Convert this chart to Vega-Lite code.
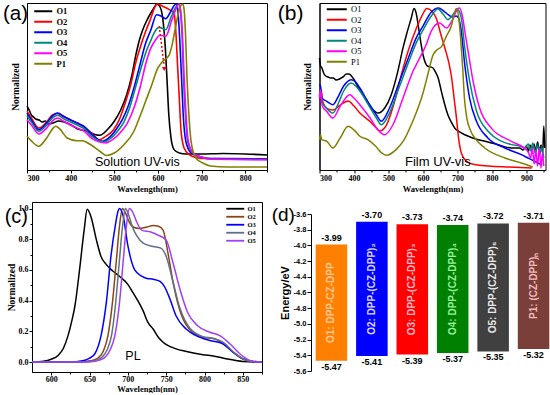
{
  "$schema": "https://vega.github.io/schema/vega-lite/v6.json",
  "padding": {"left": 2, "top": 0, "right": 0, "bottom": 0},
  "background": "white",
  "config": {
    "view": {"stroke": "black", "strokeWidth": 1},
    "axis": {"grid": false, "labelOverlap": false, "domainColor": "black", "tickColor": "black", "labelColor": "black", "titleColor": "black", "labelFont": "Liberation Serif", "labelFontWeight": "bold", "labelFontSize": 8, "titleFont": "Liberation Serif", "titleFontWeight": "bold", "titleFontSize": 8.5, "labelPadding": 1, "titlePadding": 2, "tickSize": 3},
    "axisY": {"labelOverlap": false},
    "axisQuantitative": {"labelOverlap": false},
    "legend": {"padding": 0, "offset": 0}
  },
  "resolve": {"scale": {"color": "independent", "fill": "independent"}, "legend": {"color": "independent", "fill": "independent"}},
  "spacing": 0,
  "datasets": {
    "a": [
      {"series":"O1","nm":300,"val":0.383},{"series":"O1","nm":305,"val":0.359},{"series":"O1","nm":310,"val":0.329},{"series":"O1","nm":315,"val":0.317},{"series":"O1","nm":320,"val":0.305},{"series":"O1","nm":328,"val":0.299},{"series":"O1","nm":335,"val":0.287},{"series":"O1","nm":342,"val":0.293},{"series":"O1","nm":350,"val":0.275},{"series":"O1","nm":360,"val":0.281},{"series":"O1","nm":372,"val":0.293},{"series":"O1","nm":385,"val":0.287},{"series":"O1","nm":400,"val":0.271},{"series":"O1","nm":415,"val":0.247},{"series":"O1","nm":438,"val":0.232},{"series":"O1","nm":457,"val":0.211},{"series":"O1","nm":467,"val":0.208},{"series":"O1","nm":484,"val":0.241},{"series":"O1","nm":500,"val":0.292},{"series":"O1","nm":515,"val":0.361},{"series":"O1","nm":529,"val":0.455},{"series":"O1","nm":540,"val":0.563},{"series":"O1","nm":549,"val":0.683},{"series":"O1","nm":557,"val":0.772},{"series":"O1","nm":565,"val":0.838},{"series":"O1","nm":575,"val":0.898},{"series":"O1","nm":588,"val":0.958},{"series":"O1","nm":598,"val":0.994},{"series":"O1","nm":605,"val":0.976},{"series":"O1","nm":611,"val":0.91},{"series":"O1","nm":617,"val":0.731},{"series":"O1","nm":621,"val":0.533},{"series":"O1","nm":625,"val":0.329},{"series":"O1","nm":630,"val":0.192},{"series":"O1","nm":637,"val":0.122},{"series":"O1","nm":649,"val":0.102},{"series":"O1","nm":665,"val":0.096},{"series":"O1","nm":700,"val":0.096},{"series":"O1","nm":750,"val":0.099},{"series":"O1","nm":800,"val":0.096},{"series":"O1","nm":850,"val":0.09},
      {"series":"O2","nm":300,"val":0.353},{"series":"O2","nm":310,"val":0.311},{"series":"O2","nm":327,"val":0.251},{"series":"O2","nm":345,"val":0.287},{"series":"O2","nm":358,"val":0.329},{"series":"O2","nm":370,"val":0.338},{"series":"O2","nm":385,"val":0.317},{"series":"O2","nm":400,"val":0.299},{"series":"O2","nm":415,"val":0.281},{"series":"O2","nm":430,"val":0.26},{"series":"O2","nm":450,"val":0.216},{"series":"O2","nm":465,"val":0.181},{"series":"O2","nm":480,"val":0.201},{"series":"O2","nm":498,"val":0.24},{"series":"O2","nm":512,"val":0.305},{"series":"O2","nm":525,"val":0.401},{"series":"O2","nm":538,"val":0.515},{"series":"O2","nm":549,"val":0.641},{"series":"O2","nm":559,"val":0.731},{"series":"O2","nm":572,"val":0.831},{"series":"O2","nm":584,"val":0.91},{"series":"O2","nm":592,"val":0.97},{"series":"O2","nm":599,"val":0.994},{"series":"O2","nm":612,"val":0.979},{"series":"O2","nm":626,"val":0.96},{"series":"O2","nm":637,"val":0.94},{"series":"O2","nm":641,"val":0.832},{"series":"O2","nm":645,"val":0.629},{"series":"O2","nm":649,"val":0.431},{"series":"O2","nm":653,"val":0.234},{"series":"O2","nm":660,"val":0.132},{"series":"O2","nm":672,"val":0.092},{"series":"O2","nm":687,"val":0.075},{"series":"O2","nm":700,"val":0.069},{"series":"O2","nm":850,"val":0.066},
      {"series":"O3","nm":300,"val":0.341},{"series":"O3","nm":310,"val":0.299},{"series":"O3","nm":327,"val":0.241},{"series":"O3","nm":345,"val":0.281},{"series":"O3","nm":358,"val":0.323},{"series":"O3","nm":370,"val":0.341},{"series":"O3","nm":385,"val":0.32},{"series":"O3","nm":400,"val":0.299},{"series":"O3","nm":415,"val":0.281},{"series":"O3","nm":430,"val":0.262},{"series":"O3","nm":450,"val":0.21},{"series":"O3","nm":473,"val":0.172},{"series":"O3","nm":490,"val":0.198},{"series":"O3","nm":505,"val":0.246},{"series":"O3","nm":519,"val":0.305},{"series":"O3","nm":532,"val":0.383},{"series":"O3","nm":545,"val":0.491},{"series":"O3","nm":557,"val":0.611},{"series":"O3","nm":572,"val":0.76},{"series":"O3","nm":584,"val":0.84},{"series":"O3","nm":597,"val":0.93},{"series":"O3","nm":607,"val":0.922},{"series":"O3","nm":618,"val":0.906},{"series":"O3","nm":630,"val":0.952},{"series":"O3","nm":641,"val":0.994},{"series":"O3","nm":645,"val":0.97},{"series":"O3","nm":649,"val":0.83},{"series":"O3","nm":654.5,"val":0.531},{"series":"O3","nm":658,"val":0.331},{"series":"O3","nm":664,"val":0.172},{"series":"O3","nm":676,"val":0.102},{"series":"O3","nm":695,"val":0.081},{"series":"O3","nm":720,"val":0.069},{"series":"O3","nm":850,"val":0.066},
      {"series":"O4","nm":300,"val":0.323},{"series":"O4","nm":310,"val":0.287},{"series":"O4","nm":327,"val":0.232},{"series":"O4","nm":345,"val":0.269},{"series":"O4","nm":358,"val":0.311},{"series":"O4","nm":370,"val":0.328},{"series":"O4","nm":385,"val":0.305},{"series":"O4","nm":400,"val":0.287},{"series":"O4","nm":415,"val":0.269},{"series":"O4","nm":430,"val":0.249},{"series":"O4","nm":450,"val":0.198},{"series":"O4","nm":476,"val":0.168},{"series":"O4","nm":493,"val":0.192},{"series":"O4","nm":508,"val":0.234},{"series":"O4","nm":522,"val":0.287},{"series":"O4","nm":535,"val":0.371},{"series":"O4","nm":547,"val":0.479},{"series":"O4","nm":560,"val":0.599},{"series":"O4","nm":572,"val":0.701},{"series":"O4","nm":584,"val":0.778},{"series":"O4","nm":591,"val":0.82},{"series":"O4","nm":603,"val":0.854},{"series":"O4","nm":618,"val":0.84},{"series":"O4","nm":632,"val":0.928},{"series":"O4","nm":647.5,"val":0.994},{"series":"O4","nm":651,"val":0.96},{"series":"O4","nm":655,"val":0.83},{"series":"O4","nm":659,"val":0.531},{"series":"O4","nm":663,"val":0.331},{"series":"O4","nm":668,"val":0.172},{"series":"O4","nm":680,"val":0.102},{"series":"O4","nm":699,"val":0.076},{"series":"O4","nm":720,"val":0.066},{"series":"O4","nm":850,"val":0.063},
      {"series":"O5","nm":300,"val":0.301},{"series":"O5","nm":310,"val":0.269},{"series":"O5","nm":327,"val":0.216},{"series":"O5","nm":345,"val":0.251},{"series":"O5","nm":358,"val":0.293},{"series":"O5","nm":370,"val":0.311},{"series":"O5","nm":385,"val":0.29},{"series":"O5","nm":400,"val":0.269},{"series":"O5","nm":415,"val":0.251},{"series":"O5","nm":430,"val":0.234},{"series":"O5","nm":450,"val":0.186},{"series":"O5","nm":480,"val":0.162},{"series":"O5","nm":497,"val":0.183},{"series":"O5","nm":515,"val":0.228},{"series":"O5","nm":530,"val":0.281},{"series":"O5","nm":545,"val":0.371},{"series":"O5","nm":560,"val":0.503},{"series":"O5","nm":572,"val":0.635},{"series":"O5","nm":584,"val":0.731},{"series":"O5","nm":595,"val":0.78},{"series":"O5","nm":604.6,"val":0.807},{"series":"O5","nm":618,"val":0.801},{"series":"O5","nm":632,"val":0.898},{"series":"O5","nm":649,"val":0.994},{"series":"O5","nm":652,"val":0.96},{"series":"O5","nm":656,"val":0.82},{"series":"O5","nm":660.5,"val":0.531},{"series":"O5","nm":664.4,"val":0.331},{"series":"O5","nm":669.7,"val":0.172},{"series":"O5","nm":681,"val":0.102},{"series":"O5","nm":702,"val":0.076},{"series":"O5","nm":720,"val":0.064},{"series":"O5","nm":850,"val":0.061},
      {"series":"P1","nm":300,"val":0.202},{"series":"P1","nm":310,"val":0.174},{"series":"P1","nm":327,"val":0.142},{"series":"P1","nm":345,"val":0.192},{"series":"P1","nm":360,"val":0.251},{"series":"P1","nm":366,"val":0.262},{"series":"P1","nm":375,"val":0.246},{"series":"P1","nm":392,"val":0.192},{"series":"P1","nm":415,"val":0.175},{"series":"P1","nm":427,"val":0.175},{"series":"P1","nm":446,"val":0.151},{"series":"P1","nm":469,"val":0.108},{"series":"P1","nm":482,"val":0.087},{"series":"P1","nm":500,"val":0.102},{"series":"P1","nm":522,"val":0.151},{"series":"P1","nm":545,"val":0.232},{"series":"P1","nm":560,"val":0.329},{"series":"P1","nm":572,"val":0.413},{"series":"P1","nm":585,"val":0.503},{"series":"P1","nm":600,"val":0.611},{"series":"P1","nm":611,"val":0.651},{"series":"P1","nm":626,"val":0.69},{"series":"P1","nm":632,"val":0.743},{"series":"P1","nm":640,"val":0.85},{"series":"P1","nm":649,"val":0.961},{"series":"P1","nm":657,"val":0.994},{"series":"P1","nm":660,"val":0.96},{"series":"P1","nm":663,"val":0.83},{"series":"P1","nm":667,"val":0.531},{"series":"P1","nm":671,"val":0.331},{"series":"P1","nm":676,"val":0.172},{"series":"P1","nm":687,"val":0.072},{"series":"P1","nm":703,"val":0.042},{"series":"P1","nm":720,"val":0.024},{"series":"P1","nm":760,"val":0.018},{"series":"P1","nm":850,"val":0.018}
    ],
    "b": [
      {"series":"O1","nm":300,"val":0.671},{"series":"O1","nm":303,"val":0.623},{"series":"O1","nm":307,"val":0.611},{"series":"O1","nm":312,"val":0.581},{"series":"O1","nm":318,"val":0.563},{"series":"O1","nm":325,"val":0.557},{"series":"O1","nm":332,"val":0.551},{"series":"O1","nm":340,"val":0.551},{"series":"O1","nm":348,"val":0.539},{"series":"O1","nm":358,"val":0.545},{"series":"O1","nm":368,"val":0.557},{"series":"O1","nm":378,"val":0.575},{"series":"O1","nm":386,"val":0.575},{"series":"O1","nm":397,"val":0.551},{"series":"O1","nm":416,"val":0.481},{"series":"O1","nm":436,"val":0.421},{"series":"O1","nm":455,"val":0.361},{"series":"O1","nm":470,"val":0.341},{"series":"O1","nm":489,"val":0.371},{"series":"O1","nm":508,"val":0.451},{"series":"O1","nm":527,"val":0.591},{"series":"O1","nm":542,"val":0.731},{"series":"O1","nm":552,"val":0.81},{"series":"O1","nm":566,"val":0.91},{"series":"O1","nm":574,"val":0.967},{"series":"O1","nm":580,"val":0.94},{"series":"O1","nm":586,"val":0.868},{"series":"O1","nm":593,"val":0.772},{"series":"O1","nm":600,"val":0.69},{"series":"O1","nm":607,"val":0.641},{"series":"O1","nm":614,"val":0.621},{"series":"O1","nm":622,"val":0.617},{"series":"O1","nm":629,"val":0.611},{"series":"O1","nm":636,"val":0.587},{"series":"O1","nm":644,"val":0.551},{"series":"O1","nm":651,"val":0.491},{"series":"O1","nm":658,"val":0.431},{"series":"O1","nm":665,"val":0.377},{"series":"O1","nm":672,"val":0.331},{"series":"O1","nm":682,"val":0.287},{"series":"O1","nm":692,"val":0.251},{"series":"O1","nm":706,"val":0.228},{"series":"O1","nm":721,"val":0.211},{"series":"O1","nm":740,"val":0.195},{"series":"O1","nm":760,"val":0.181},{"series":"O1","nm":788,"val":0.168},{"series":"O1","nm":820,"val":0.15},{"series":"O1","nm":856,"val":0.132},{"series":"O1","nm":880,"val":0.132},{"series":"O1","nm":890,"val":0.12},{"series":"O1","nm":900,"val":0.144},{"series":"O1","nm":905,"val":0.108},{"series":"O1","nm":910,"val":0.15},{"series":"O1","nm":916,"val":0.12},{"series":"O1","nm":922,"val":0.156},{"series":"O1","nm":927,"val":0.108},{"series":"O1","nm":932,"val":0.168},{"series":"O1","nm":937,"val":0.114},{"series":"O1","nm":942,"val":0.15},{"series":"O1","nm":947,"val":0.102},{"series":"O1","nm":950,"val":0.263},{"series":"O1","nm":953,"val":0.132},
      {"series":"O2","nm":300,"val":0.443},{"series":"O2","nm":305,"val":0.479},{"series":"O2","nm":309,"val":0.413},{"series":"O2","nm":320,"val":0.371},{"series":"O2","nm":339,"val":0.359},{"series":"O2","nm":360,"val":0.389},{"series":"O2","nm":383,"val":0.413},{"series":"O2","nm":400,"val":0.383},{"series":"O2","nm":417,"val":0.341},{"series":"O2","nm":445,"val":0.293},{"series":"O2","nm":465,"val":0.251},{"series":"O2","nm":475,"val":0.234},{"series":"O2","nm":494,"val":0.269},{"series":"O2","nm":518,"val":0.413},{"series":"O2","nm":537,"val":0.569},{"series":"O2","nm":557,"val":0.713},{"series":"O2","nm":581,"val":0.85},{"series":"O2","nm":598,"val":0.928},{"series":"O2","nm":611,"val":0.967},{"series":"O2","nm":625,"val":0.952},{"series":"O2","nm":638,"val":0.91},{"series":"O2","nm":653,"val":0.802},{"series":"O2","nm":665,"val":0.719},{"series":"O2","nm":675,"val":0.641},{"series":"O2","nm":683,"val":0.551},{"series":"O2","nm":690,"val":0.431},{"series":"O2","nm":697,"val":0.311},{"series":"O2","nm":703,"val":0.192},{"series":"O2","nm":711,"val":0.102},{"series":"O2","nm":725,"val":0.054},{"series":"O2","nm":750,"val":0.033},{"series":"O2","nm":790,"val":0.024},{"series":"O2","nm":850,"val":0.018},{"series":"O2","nm":915,"val":0.012},
      {"series":"O3","nm":300,"val":0.511},{"series":"O3","nm":303,"val":0.503},{"series":"O3","nm":307,"val":0.431},{"series":"O3","nm":320,"val":0.413},{"series":"O3","nm":339,"val":0.391},{"series":"O3","nm":355,"val":0.443},{"series":"O3","nm":370,"val":0.503},{"series":"O3","nm":392,"val":0.541},{"series":"O3","nm":405,"val":0.527},{"series":"O3","nm":417,"val":0.491},{"series":"O3","nm":445,"val":0.391},{"series":"O3","nm":465,"val":0.329},{"series":"O3","nm":479,"val":0.292},{"series":"O3","nm":503,"val":0.371},{"series":"O3","nm":532,"val":0.531},{"series":"O3","nm":561,"val":0.69},{"series":"O3","nm":580,"val":0.79},{"series":"O3","nm":600,"val":0.862},{"series":"O3","nm":624,"val":0.946},{"series":"O3","nm":645,"val":0.97},{"series":"O3","nm":660,"val":0.952},{"series":"O3","nm":673,"val":0.93},{"series":"O3","nm":686,"val":0.916},{"series":"O3","nm":696,"val":0.922},{"series":"O3","nm":703,"val":0.91},{"series":"O3","nm":711,"val":0.83},{"series":"O3","nm":721,"val":0.631},{"series":"O3","nm":735,"val":0.431},{"series":"O3","nm":755,"val":0.292},{"series":"O3","nm":788,"val":0.192},{"series":"O3","nm":837,"val":0.132},{"series":"O3","nm":885,"val":0.092},{"series":"O3","nm":904,"val":0.072},{"series":"O3","nm":933,"val":0.042},{"series":"O3","nm":945,"val":0.03},
      {"series":"O4","nm":300,"val":0.443},{"series":"O4","nm":303,"val":0.479},{"series":"O4","nm":307,"val":0.413},{"series":"O4","nm":320,"val":0.371},{"series":"O4","nm":339,"val":0.341},{"series":"O4","nm":355,"val":0.401},{"series":"O4","nm":370,"val":0.473},{"series":"O4","nm":392,"val":0.521},{"series":"O4","nm":405,"val":0.503},{"series":"O4","nm":417,"val":0.473},{"series":"O4","nm":450,"val":0.361},{"series":"O4","nm":465,"val":0.311},{"series":"O4","nm":479,"val":0.271},{"series":"O4","nm":503,"val":0.341},{"series":"O4","nm":532,"val":0.501},{"series":"O4","nm":561,"val":0.661},{"series":"O4","nm":580,"val":0.76},{"series":"O4","nm":600,"val":0.838},{"series":"O4","nm":624,"val":0.922},{"series":"O4","nm":643,"val":0.964},{"series":"O4","nm":658,"val":0.934},{"series":"O4","nm":672,"val":0.9},{"series":"O4","nm":688,"val":0.934},{"series":"O4","nm":701,"val":0.96},{"series":"O4","nm":711,"val":0.91},{"series":"O4","nm":721,"val":0.731},{"series":"O4","nm":735,"val":0.533},{"series":"O4","nm":755,"val":0.353},{"series":"O4","nm":788,"val":0.234},{"series":"O4","nm":856,"val":0.152},{"series":"O4","nm":880,"val":0.144},{"series":"O4","nm":895,"val":0.132},{"series":"O4","nm":905,"val":0.156},{"series":"O4","nm":912,"val":0.114},{"series":"O4","nm":918,"val":0.162},{"series":"O4","nm":925,"val":0.102},{"series":"O4","nm":932,"val":0.15},{"series":"O4","nm":938,"val":0.09},{"series":"O4","nm":944,"val":0.138},{"series":"O4","nm":950,"val":0.072},
      {"series":"O5","nm":300,"val":0.431},{"series":"O5","nm":303,"val":0.479},{"series":"O5","nm":308,"val":0.383},{"series":"O5","nm":320,"val":0.353},{"series":"O5","nm":339,"val":0.311},{"series":"O5","nm":360,"val":0.383},{"series":"O5","nm":388,"val":0.451},{"series":"O5","nm":400,"val":0.431},{"series":"O5","nm":417,"val":0.391},{"series":"O5","nm":450,"val":0.301},{"series":"O5","nm":469,"val":0.241},{"series":"O5","nm":489,"val":0.211},{"series":"O5","nm":513,"val":0.271},{"series":"O5","nm":542,"val":0.431},{"series":"O5","nm":571,"val":0.591},{"series":"O5","nm":595,"val":0.689},{"series":"O5","nm":610,"val":0.754},{"series":"O5","nm":624,"val":0.832},{"series":"O5","nm":648,"val":0.88},{"series":"O5","nm":668,"val":0.85},{"series":"O5","nm":685,"val":0.898},{"series":"O5","nm":700,"val":0.964},{"series":"O5","nm":706,"val":0.97},{"series":"O5","nm":714,"val":0.922},{"series":"O5","nm":722,"val":0.82},{"series":"O5","nm":730,"val":0.719},{"series":"O5","nm":745,"val":0.533},{"series":"O5","nm":764,"val":0.371},{"series":"O5","nm":798,"val":0.251},{"series":"O5","nm":856,"val":0.172},{"series":"O5","nm":904,"val":0.112},{"series":"O5","nm":912,"val":0.072},{"series":"O5","nm":917,"val":0.132},{"series":"O5","nm":922,"val":0.036},{"series":"O5","nm":927,"val":0.12},{"series":"O5","nm":932,"val":0.024},{"series":"O5","nm":937,"val":0.132},{"series":"O5","nm":942,"val":0.012},{"series":"O5","nm":946,"val":0.102},{"series":"O5","nm":950,"val":0.024},
      {"series":"P1","nm":300,"val":0.181},{"series":"P1","nm":303,"val":0.21},{"series":"P1","nm":307,"val":0.18},{"series":"P1","nm":320,"val":0.174},{"series":"P1","nm":339,"val":0.132},{"series":"P1","nm":360,"val":0.192},{"series":"P1","nm":383,"val":0.262},{"series":"P1","nm":400,"val":0.24},{"series":"P1","nm":417,"val":0.202},{"series":"P1","nm":441,"val":0.181},{"series":"P1","nm":463,"val":0.142},{"series":"P1","nm":480,"val":0.102},{"series":"P1","nm":494,"val":0.088},{"series":"P1","nm":522,"val":0.122},{"series":"P1","nm":545,"val":0.18},{"series":"P1","nm":566,"val":0.271},{"series":"P1","nm":580,"val":0.341},{"series":"P1","nm":600,"val":0.461},{"series":"P1","nm":615,"val":0.581},{"series":"P1","nm":628,"val":0.683},{"series":"P1","nm":640,"val":0.719},{"series":"P1","nm":653,"val":0.737},{"series":"P1","nm":668,"val":0.802},{"series":"P1","nm":682,"val":0.862},{"series":"P1","nm":690,"val":0.934},{"series":"P1","nm":697,"val":0.967},{"series":"P1","nm":703,"val":0.922},{"series":"P1","nm":709,"val":0.79},{"series":"P1","nm":715,"val":0.611},{"series":"P1","nm":720,"val":0.431},{"series":"P1","nm":727,"val":0.311},{"series":"P1","nm":737,"val":0.24},{"series":"P1","nm":750,"val":0.192},{"series":"P1","nm":779,"val":0.132},{"series":"P1","nm":837,"val":0.072},{"series":"P1","nm":885,"val":0.042},{"series":"P1","nm":910,"val":0.024},{"series":"P1","nm":918,"val":0.018}
    ],
    "c": [
      {"series":"O1","nm":575,"val":0},{"series":"O1","nm":590,"val":0.005},{"series":"O1","nm":600,"val":0.018},{"series":"O1","nm":609,"val":0.043},{"series":"O1","nm":616,"val":0.09},{"series":"O1","nm":622,"val":0.172},{"series":"O1","nm":627,"val":0.27},{"series":"O1","nm":631,"val":0.366},{"series":"O1","nm":637,"val":0.6},{"series":"O1","nm":643,"val":0.86},{"series":"O1","nm":647,"val":0.995},{"series":"O1","nm":652,"val":0.946},{"series":"O1","nm":659,"val":0.796},{"series":"O1","nm":665,"val":0.688},{"series":"O1","nm":672,"val":0.635},{"series":"O1","nm":680,"val":0.595},{"series":"O1","nm":689,"val":0.559},{"series":"O1","nm":700,"val":0.506},{"series":"O1","nm":707,"val":0.45},{"series":"O1","nm":713,"val":0.4},{"series":"O1","nm":720,"val":0.333},{"series":"O1","nm":726,"val":0.26},{"series":"O1","nm":733,"val":0.215},{"series":"O1","nm":740,"val":0.16},{"series":"O1","nm":746,"val":0.129},{"series":"O1","nm":763,"val":0.086},{"series":"O1","nm":775,"val":0.07},{"series":"O1","nm":798,"val":0.048},{"series":"O1","nm":813,"val":0.038},{"series":"O1","nm":828,"val":0.022},{"series":"O1","nm":850,"val":0.004},{"series":"O1","nm":875,"val":0},
      {"series":"O2","nm":575,"val":0},{"series":"O2","nm":630,"val":0},{"series":"O2","nm":645,"val":0.004},{"series":"O2","nm":655,"val":0.012},{"series":"O2","nm":662,"val":0.03},{"series":"O2","nm":668,"val":0.07},{"series":"O2","nm":674,"val":0.17},{"series":"O2","nm":680,"val":0.39},{"series":"O2","nm":685,"val":0.66},{"series":"O2","nm":689,"val":0.88},{"series":"O2","nm":693,"val":1.0},{"series":"O2","nm":697,"val":0.97},{"series":"O2","nm":701,"val":0.92},{"series":"O2","nm":707,"val":0.88},{"series":"O2","nm":715,"val":0.87},{"series":"O2","nm":725,"val":0.88},{"series":"O2","nm":733,"val":0.89},{"series":"O2","nm":740,"val":0.885},{"series":"O2","nm":746,"val":0.86},{"series":"O2","nm":752,"val":0.72},{"series":"O2","nm":759,"val":0.52},{"series":"O2","nm":767,"val":0.35},{"series":"O2","nm":780,"val":0.215},{"series":"O2","nm":798,"val":0.162},{"series":"O2","nm":813,"val":0.152},{"series":"O2","nm":824,"val":0.12},{"series":"O2","nm":837,"val":0.066},{"series":"O2","nm":850,"val":0.02},{"series":"O2","nm":860,"val":0.005},{"series":"O2","nm":875,"val":0},
      {"series":"O3","nm":575,"val":0},{"series":"O3","nm":620,"val":0},{"series":"O3","nm":635,"val":0.004},{"series":"O3","nm":644,"val":0.011},{"series":"O3","nm":650,"val":0.025},{"series":"O3","nm":657,"val":0.054},{"series":"O3","nm":665,"val":0.17},{"series":"O3","nm":672,"val":0.39},{"series":"O3","nm":678,"val":0.69},{"series":"O3","nm":684,"val":0.9},{"series":"O3","nm":687,"val":0.98},{"series":"O3","nm":689,"val":1.0},{"series":"O3","nm":694,"val":0.95},{"series":"O3","nm":700,"val":0.76},{"series":"O3","nm":709,"val":0.6},{"series":"O3","nm":718,"val":0.56},{"series":"O3","nm":725,"val":0.545},{"series":"O3","nm":733,"val":0.54},{"series":"O3","nm":742,"val":0.525},{"series":"O3","nm":748,"val":0.49},{"series":"O3","nm":755,"val":0.41},{"series":"O3","nm":763,"val":0.3},{"series":"O3","nm":776,"val":0.215},{"series":"O3","nm":789,"val":0.172},{"series":"O3","nm":807,"val":0.14},{"series":"O3","nm":824,"val":0.119},{"series":"O3","nm":837,"val":0.065},{"series":"O3","nm":850,"val":0.022},{"series":"O3","nm":863,"val":0.004},{"series":"O3","nm":875,"val":0},
      {"series":"O4","nm":575,"val":0},{"series":"O4","nm":635,"val":0},{"series":"O4","nm":650,"val":0.004},{"series":"O4","nm":660,"val":0.014},{"series":"O4","nm":667,"val":0.035},{"series":"O4","nm":673,"val":0.08},{"series":"O4","nm":679,"val":0.18},{"series":"O4","nm":684,"val":0.38},{"series":"O4","nm":689,"val":0.66},{"series":"O4","nm":693,"val":0.88},{"series":"O4","nm":697,"val":1.0},{"series":"O4","nm":701,"val":0.96},{"series":"O4","nm":706,"val":0.88},{"series":"O4","nm":712,"val":0.82},{"series":"O4","nm":720,"val":0.775},{"series":"O4","nm":733,"val":0.753},{"series":"O4","nm":743,"val":0.742},{"series":"O4","nm":750,"val":0.69},{"series":"O4","nm":759,"val":0.52},{"series":"O4","nm":768,"val":0.35},{"series":"O4","nm":781,"val":0.22},{"series":"O4","nm":798,"val":0.165},{"series":"O4","nm":810,"val":0.155},{"series":"O4","nm":824,"val":0.13},{"series":"O4","nm":840,"val":0.056},{"series":"O4","nm":855,"val":0.01},{"series":"O4","nm":875,"val":0},
      {"series":"O5","nm":575,"val":0},{"series":"O5","nm":640,"val":0},{"series":"O5","nm":655,"val":0.004},{"series":"O5","nm":664,"val":0.014},{"series":"O5","nm":671,"val":0.035},{"series":"O5","nm":677,"val":0.08},{"series":"O5","nm":683,"val":0.17},{"series":"O5","nm":689,"val":0.38},{"series":"O5","nm":694,"val":0.66},{"series":"O5","nm":698,"val":0.88},{"series":"O5","nm":702,"val":1.0},{"series":"O5","nm":706,"val":0.98},{"series":"O5","nm":711,"val":0.92},{"series":"O5","nm":718,"val":0.86},{"series":"O5","nm":730,"val":0.847},{"series":"O5","nm":739,"val":0.828},{"series":"O5","nm":750,"val":0.796},{"series":"O5","nm":759,"val":0.645},{"series":"O5","nm":768,"val":0.474},{"series":"O5","nm":778,"val":0.323},{"series":"O5","nm":791,"val":0.237},{"series":"O5","nm":807,"val":0.194},{"series":"O5","nm":820,"val":0.172},{"series":"O5","nm":833,"val":0.119},{"series":"O5","nm":846,"val":0.054},{"series":"O5","nm":859,"val":0.011},{"series":"O5","nm":870,"val":0},{"series":"O5","nm":875,"val":0}
    ],
    "d": [
      {"name":"O1","lumo":-3.99,"homo":-5.47,"label":"O1: DPP-CZ-DPP"},
      {"name":"O2","lumo":-3.70,"homo":-5.41,"label":"O2: DPP-(CZ-DPP)₂"},
      {"name":"O3","lumo":-3.73,"homo":-5.39,"label":"O3: DPP-(CZ-DPP)₃"},
      {"name":"O4","lumo":-3.74,"homo":-5.37,"label":"O4: DPP-(CZ-DPP)₄"},
      {"name":"O5","lumo":-3.72,"homo":-5.35,"label":"O5: DPP-(CZ-DPP)₅"},
      {"name":"P1","lumo":-3.71,"homo":-5.32,"label":"P1: (CZ-DPP)ₙ"}
    ]
  },
  "hconcat": [
    {
      "bounds": "flush", "center": true, "spacing": 32,
      "resolve": {"scale": {"color": "independent"}, "legend": {"color": "independent"}},
      "vconcat": [
        {
          "width": 240, "height": 167,
          "encoding": {
            "x": {"field": "nm", "type": "quantitative", "scale": {"domain": [300, 850], "nice": false, "zero": false},
                  "axis": {"values": [300,350,400,450,500,550,600,650,700,750,800,850], "labelExpr": "datum.value % 100 == 0 && datum.value < 850 ? datum.label : ''", "tickSize": {"condition": {"test": "datum.value % 100 == 0", "value": 3}, "value": 2}, "title": "Wavelength(nm)"}},
            "y": {"field": "val", "type": "quantitative", "scale": {"domain": [0, 1], "nice": false, "zero": false},
                  "axis": {"labels": false, "ticks": false, "title": "Normalized", "titleFontSize": 9.5, "titlePadding": 7}}
          },
          "layer": [
            {"data": {"name": "a"}, "mark": {"type": "line", "strokeWidth": 1.6, "interpolate": "monotone"},
             "encoding": {"color": {"field": "series", "type": "nominal",
               "scale": {"domain": ["O1","O2","O3","O4","O5","P1"], "range": ["#000000","#FF0000","#0000FF","#00897B","#FF00FF","#808000"]},
               "legend": {"orient": "none", "legendX": 12, "legendY": 4, "title": null, "symbolType": "M-4.5,0H4.5", "symbolSize": 16, "symbolStrokeWidth": 2, "labelFont": "Liberation Serif", "labelFontWeight": "bold", "labelFontSize": 8.5, "labelColor": "black", "rowPadding": 1.5, "labelOffset": 9}}}},
            {"data": {"values": [{"nm": 603, "val": 0.862, "nm2": 614, "val2": 0.63}]},
             "mark": {"type": "rule", "color": "#FF0000", "strokeWidth": 1.5, "strokeDash": [2, 2]},
             "encoding": {"x2": {"field": "nm2"}, "y2": {"field": "val2"}}},
            {"data": {"values": [{"nm": 614.5, "val": 0.605}]},
             "mark": {"type": "point", "shape": "triangle-down", "filled": true, "color": "#FF0000", "size": 22, "opacity": 1}},
            {"data": {"values": [{"nm": 553, "val": 0.048, "t": "Solution UV-vis"}]},
             "mark": {"type": "text", "font": "Liberation Sans", "fontSize": 12.5, "color": "black"},
             "encoding": {"text": {"field": "t"}}},
            {"data": {"values": [{"nm": 300, "val": 1, "t": "(a)"}]},
             "mark": {"type": "text", "font": "Liberation Sans", "fontSize": 20.5, "align": "right", "baseline": "top", "dx": 1, "dy": 1, "color": "black"},
             "encoding": {"text": {"field": "t"}}}
          ]
        },
        {
          "width": 230, "height": 170,
          "encoding": {
            "x": {"field": "nm", "type": "quantitative", "scale": {"domain": [575, 875], "nice": false, "zero": false},
                  "axis": {"values": [600,625,650,675,700,725,750,775,800,825,850,875], "labelExpr": "datum.value % 50 == 0 && datum.value < 875 ? datum.label : ''", "tickSize": {"condition": {"test": "datum.value % 50 == 0", "value": 3}, "value": 2}, "title": "Wavelength(nm)", "labelPadding": 0, "titlePadding": 1}},
            "y": {"field": "val", "type": "quantitative", "scale": {"domain": [-0.065, 1.043], "nice": false, "zero": false},
                  "axis": {"values": [0,0.1,0.2,0.3,0.4,0.5,0.6,0.7,0.8,0.9,1.0], "labelExpr": "round(datum.value*10) % 2 == 0 ? format(datum.value, '.1f') : ''", "tickSize": {"condition": {"test": "round(datum.value*10) % 2 == 0", "value": 3}, "value": 2}, "title": "Normalized", "titleFontSize": 9.5, "titlePadding": 2}}
          },
          "layer": [
            {"data": {"name": "c"}, "mark": {"type": "line", "strokeWidth": 1.5, "interpolate": "monotone"},
             "encoding": {"color": {"field": "series", "type": "nominal",
               "scale": {"domain": ["O1","O2","O3","O4","O5"], "range": ["#000000","#8B4513","#0000FF","#5F7088","#A040F0"]},
               "legend": {"orient": "none", "legendX": 200, "legendY": 3.5, "title": null, "symbolType": "M-4.5,0H4.5", "symbolSize": 16, "symbolStrokeWidth": 1.8, "labelFont": "Liberation Serif", "labelFontWeight": "bold", "labelFontSize": 6.5, "labelColor": "black", "rowPadding": 0, "labelOffset": 9}}}},
            {"data": {"values": [{"nm": 706.7, "val": 0.04, "t": "PL"}]},
             "mark": {"type": "text", "font": "Liberation Sans", "fontSize": 12.5, "color": "black"},
             "encoding": {"text": {"field": "t"}}},
            {"data": {"values": [{"nm": 575, "val": 1.043, "t": "(c)"}]},
             "mark": {"type": "text", "font": "Liberation Sans", "fontSize": 20, "align": "right", "baseline": "top", "dx": -4, "dy": 5, "color": "black"},
             "encoding": {"text": {"field": "t"}}}
          ]
        }
      ]
    },
    {
      "bounds": "flush", "center": true, "spacing": 44,
      "resolve": {"scale": {"color": "independent", "fill": "independent"}, "legend": {"color": "independent", "fill": "independent"}},
      "vconcat": [
        {
          "width": 226, "height": 167,
          "encoding": {
            "x": {"field": "nm", "type": "quantitative", "scale": {"domain": [300, 955], "nice": false, "zero": false},
                  "axis": {"values": [300,350,400,450,500,550,600,650,700,750,800,850,900,950], "labelExpr": "datum.value % 100 == 0 ? datum.label : ''", "tickSize": {"condition": {"test": "datum.value % 100 == 0", "value": 3}, "value": 2}, "title": "Wavelength(nm)"}},
            "y": {"field": "val", "type": "quantitative", "scale": {"domain": [0, 1], "nice": false, "zero": false},
                  "axis": {"labels": false, "ticks": false, "title": "Normalized", "titleFontSize": 9.5, "titlePadding": 7}}
          },
          "layer": [
            {"data": {"name": "b"}, "mark": {"type": "line", "strokeWidth": 1.5, "interpolate": "monotone"},
             "encoding": {"color": {"field": "series", "type": "nominal",
               "scale": {"domain": ["O1","O2","O3","O4","O5","P1"], "range": ["#000000","#FF0000","#0000FF","#00897B","#FF00FF","#808000"]},
               "legend": {"orient": "none", "legendX": 13, "legendY": 2, "title": null, "symbolType": "M-5,0H5", "symbolSize": 16, "symbolStrokeWidth": 2, "labelFont": "Liberation Serif", "labelFontWeight": "normal", "labelFontSize": 8.5, "labelColor": "black", "rowPadding": 1.5, "labelOffset": 10}}}},
            {"data": {"values": [{"nm": 643, "val": 0.048, "t": "Film UV-vis"}]},
             "mark": {"type": "text", "font": "Liberation Sans", "fontSize": 13, "color": "black"},
             "encoding": {"text": {"field": "t"}}},
            {"data": {"values": [{"nm": 300, "val": 1, "t": "(b)"}]},
             "mark": {"type": "text", "font": "Liberation Sans", "fontSize": 21, "align": "right", "baseline": "top", "dx": -16, "dy": 0, "color": "black"},
             "encoding": {"text": {"field": "t"}}}
          ]
        },
        {
          "width": 243, "height": 157,
          "view": {"stroke": null},
          "data": {"name": "d"},
          "transform": [
            {"calculate": "(datum.lumo + datum.homo) / 2", "as": "mid"},
            {"calculate": "replace(format(datum.lumo, '.2f'), '\u2212', '-')", "as": "lumoText"},
            {"calculate": "replace(format(datum.homo, '.2f'), '\u2212', '-')", "as": "homoText"}
          ],
          "encoding": {
            "x": {"field": "name", "type": "nominal", "sort": null, "axis": null, "scale": {"paddingInner": 0.22, "paddingOuter": 0.116}}
          },
          "layer": [
            {"mark": {"type": "bar"},
             "encoding": {
               "y": {"field": "lumo", "type": "quantitative", "title": "Energy/eV", "scale": {"domain": [-5.6, -3.6], "nice": false, "zero": false},
                     "axis": {"values": [-5.6,-5.4,-5.2,-5.0,-4.8,-4.6,-4.4,-4.2,-4.0,-3.8,-3.6], "labelOverlap": false, "labelExpr": "replace(format(datum.value, '.1f'), '\u2212', '-')", "tickSize": 4, "labelFont": "Liberation Sans", "labelFontWeight": "bold", "labelFontSize": 7.5, "titleFont": "Liberation Sans", "titleFontWeight": "bold", "titleFontSize": 11, "titlePadding": 3}},
               "y2": {"field": "homo"},
               "color": {"field": "name", "type": "nominal", "scale": {"domain": ["O1","O2","O3","O4","O5","P1"], "range": ["#FF8000","#0000FF","#FF0000","#008000","#404040","#7B3F3A"]}, "legend": null}
             }},
            {"mark": {"type": "text", "angle": 270, "font": "Liberation Sans", "fontWeight": "bold", "fontSize": 10},
             "encoding": {
               "y": {"field": "mid", "type": "quantitative", "title": "Energy/eV",
                     "axis": {"values": [-5.6,-5.4,-5.2,-5.0,-4.8,-4.6,-4.4,-4.2,-4.0,-3.8,-3.6], "labelOverlap": false, "labelExpr": "replace(format(datum.value, '.1f'), '\u2212', '-')", "tickSize": 4, "labelFont": "Liberation Sans", "labelFontWeight": "bold", "labelFontSize": 7.5, "titleFont": "Liberation Sans", "titleFontWeight": "bold", "titleFontSize": 11, "titlePadding": 3}},
               "text": {"field": "label"},
               "fill": {"field": "name", "type": "nominal", "scale": {"domain": ["O1","O2","O3","O4","O5","P1"], "range": ["#FFC89A","#D8D8FF","#FFB8C8","#98F098","#E8E8E8","#F4B8B8"]}, "legend": null}
             }},
            {"mark": {"type": "text", "baseline": "bottom", "dy": -2, "font": "Liberation Sans", "fontWeight": "bold", "fontSize": 9, "color": "black"},
             "encoding": {
               "y": {"field": "lumo", "type": "quantitative", "title": "Energy/eV",
                     "axis": {"values": [-5.6,-5.4,-5.2,-5.0,-4.8,-4.6,-4.4,-4.2,-4.0,-3.8,-3.6], "labelOverlap": false, "labelExpr": "replace(format(datum.value, '.1f'), '\u2212', '-')", "tickSize": 4, "labelFont": "Liberation Sans", "labelFontWeight": "bold", "labelFontSize": 7.5, "titleFont": "Liberation Sans", "titleFontWeight": "bold", "titleFontSize": 11, "titlePadding": 3}},
               "text": {"field": "lumoText"}
             }},
            {"mark": {"type": "text", "baseline": "top", "dy": 2, "font": "Liberation Sans", "fontWeight": "bold", "fontSize": 9, "color": "black"},
             "encoding": {
               "y": {"field": "homo", "type": "quantitative", "title": "Energy/eV",
                     "axis": {"values": [-5.6,-5.4,-5.2,-5.0,-4.8,-4.6,-4.4,-4.2,-4.0,-3.8,-3.6], "labelOverlap": false, "labelExpr": "replace(format(datum.value, '.1f'), '\u2212', '-')", "tickSize": 4, "labelFont": "Liberation Sans", "labelFontWeight": "bold", "labelFontSize": 7.5, "titleFont": "Liberation Sans", "titleFontWeight": "bold", "titleFontSize": 11, "titlePadding": 3}},
               "text": {"field": "homoText"}
             }},
            {"data": {"values": [{"name": "O1", "lumo": -3.6, "t": "(d)"}]},
             "transform": [],
             "mark": {"type": "text", "font": "Liberation Sans", "fontSize": 19, "align": "right", "baseline": "top", "dx": -36.5, "dy": -8, "color": "black"},
             "encoding": {
               "y": {"field": "lumo", "type": "quantitative", "title": "Energy/eV",
                     "axis": {"values": [-5.6,-5.4,-5.2,-5.0,-4.8,-4.6,-4.4,-4.2,-4.0,-3.8,-3.6], "labelOverlap": false, "labelExpr": "replace(format(datum.value, '.1f'), '\u2212', '-')", "tickSize": 4, "labelFont": "Liberation Sans", "labelFontWeight": "bold", "labelFontSize": 7.5, "titleFont": "Liberation Sans", "titleFontWeight": "bold", "titleFontSize": 11, "titlePadding": 3}},
               "text": {"field": "t"}
             }}
          ]
        }
      ]
    }
  ]
}
